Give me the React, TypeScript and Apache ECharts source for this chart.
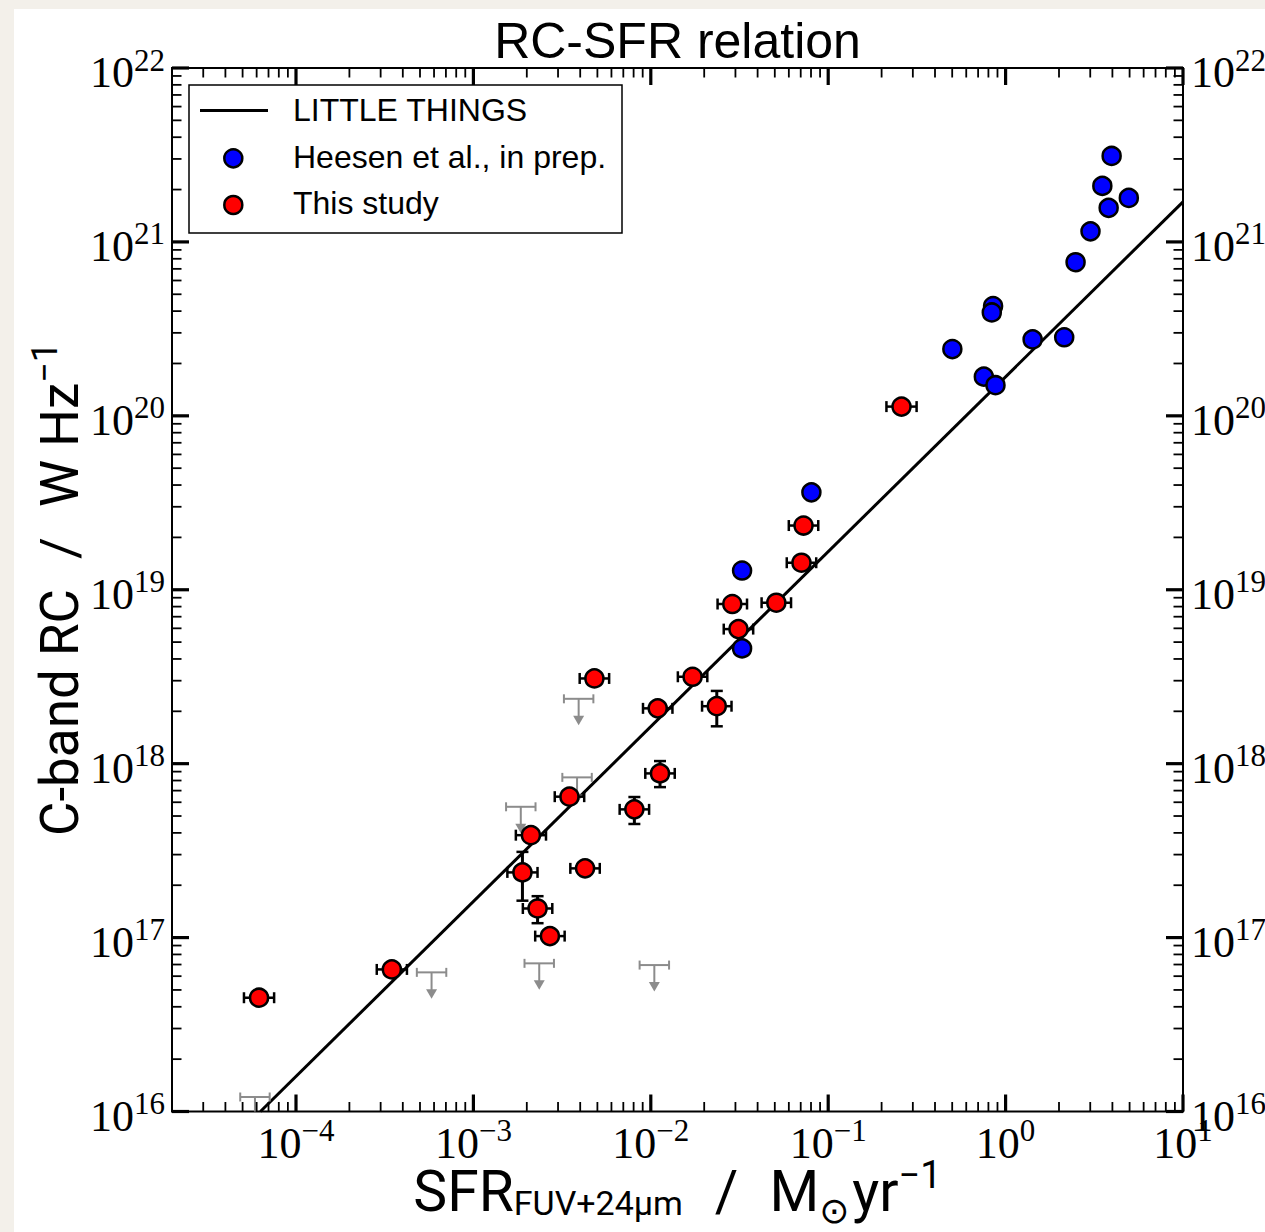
import React, { useEffect, useRef } from "react";
import * as echarts from "echarts";

// ---------- axes ----------
const X_RANGE = [2e-5, 10];
const Y_RANGE = [1e16, 1e22];
const X_MAJOR_TICKS = [1e-4, 1e-3, 1e-2, 1e-1, 1, 10];
const X_MAJOR_LABEL_EXP = ["−4", "−3", "−2", "−1", "0", "1"];
const X_DECADES = [1e-5, 1e-4, 1e-3, 1e-2, 1e-1, 1];
const Y_MAJOR_TICKS = [1e16, 1e17, 1e18, 1e19, 1e20, 1e21, 1e22];
const Y_MAJOR_LABEL_EXP = ["16", "17", "18", "19", "20", "21", "22"];
const Y_DECADES = [1e16, 1e17, 1e18, 1e19, 1e20, 1e21];
const MINOR_MULTIPLIERS = [2, 3, 4, 5, 6, 7, 8, 9];

// ---------- LITTLE THINGS relation ----------
const LINE_X = [6.3e-5, 10];
const LINE_Y = [1e16, 1.7e21];

// ---------- Heesen et al., in prep. ----------
const HEESEN_X = [3.96, 3.51, 4.95, 3.81, 3.01, 2.48, 0.85, 0.836, 1.42, 2.14, 0.501, 0.754, 0.877, 0.0804, 0.0327, 0.0327];
const HEESEN_Y = [3.12e21, 2.1e21, 1.79e21, 1.57e21, 1.15e21, 7.64e20, 4.28e20, 3.93e20, 2.75e20, 2.83e20, 2.42e20, 1.68e20, 1.5e20, 3.63e19, 1.29e19, 4.6e18];

// ---------- This study ----------
const STUDY_X = [0.259, 0.0726, 0.0707, 0.0288, 0.051, 0.0312, 0.0172, 0.00481, 0.01094, 0.02355, 0.01127, 0.00348, 0.00808, 0.00211, 0.00189, 0.00426, 0.0023, 0.0027, 3.47e-4, 6.19e-5];
const STUDY_Y = [1.13e20, 2.34e19, 1.43e19, 8.28e18, 8.42e18, 5.94e18, 3.16e18, 3.09e18, 2.08e18, 2.14e18, 8.79e17, 6.46e17, 5.46e17, 3.88e17, 2.37e17, 2.5e17, 1.47e17, 1.02e17, 6.56e16, 4.51e16];
const STUDY_XERR_DEX = [0.085, 0.083, 0.083, 0.083, 0.083, 0.083, 0.083, 0.083, 0.083, 0.083, 0.083, 0.083, 0.083, 0.085, 0.085, 0.083, 0.083, 0.083, 0.085, 0.085];
const STUDY_Y_LO = [0, 0, 0, 0, 0, 0, 0, 0, 0, 1.64e18, 7.33e17, 0, 4.5e17, 0, 1.63e17, 0, 1.21e17, 0, 0, 0];
const STUDY_Y_HI = [0, 0, 0, 0, 0, 0, 0, 0, 0, 2.62e18, 1.035e18, 0, 6.43e17, 0, 3.11e17, 0, 1.73e17, 0, 0, 0];

// ---------- upper limits (grey) ----------
const LIMIT_X = [0.00392, 0.00384, 0.00185, 0.00235, 0.01047, 5.81e-4, 5.87e-5];
const LIMIT_Y = [2.36e18, 8.34e17, 5.65e17, 7.11e16, 6.95e16, 6.31e16, 1.21e16];
const LIMIT_XERR_DEX = [0.083, 0.083, 0.083, 0.083, 0.083, 0.083, 0.083];

const SERIF = "'Liberation Serif', 'DejaVu Serif', serif";
const SANS = "'Liberation Sans', Arial, sans-serif";
const MATHSANS = "Roboto, 'DejaVu Sans', sans-serif";

// main digits centred in a 56px line; exponent (top-aligned) sits ~12px higher
const TICK_RICH = {
  b: { fontFamily: SERIF, fontSize: 44, lineHeight: 56, fill: "#000" },
  s: { fontFamily: SERIF, fontSize: 31, lineHeight: 10, verticalAlign: "top", fill: "#000" },
};

function buildTickData() {
  const d: number[][] = [];
  X_MAJOR_TICKS.forEach((v, i) => d.push([v, Y_RANGE[0], 0, 1, i]));
  X_DECADES.forEach((dec) =>
    MINOR_MULTIPLIERS.forEach((m) => {
      const v = m * dec;
      if (v >= X_RANGE[0] * 0.9999 && v <= X_RANGE[1]) d.push([v, Y_RANGE[0], 0, 0, -1]);
    })
  );
  Y_MAJOR_TICKS.forEach((v, i) => d.push([X_RANGE[0], v, 1, 1, i]));
  Y_DECADES.forEach((dec) =>
    MINOR_MULTIPLIERS.forEach((m) => {
      const v = m * dec;
      if (v >= Y_RANGE[0] && v <= Y_RANGE[1]) d.push([X_RANGE[0], v, 1, 0, -1]);
    })
  );
  return d;
}

export default function App() {
  const ref = useRef<HTMLDivElement>(null);
  useEffect(() => {
    document.body.style.margin = "0";
    if (!ref.current) return;
    const chart = echarts.init(ref.current, undefined, { renderer: "svg" });

    const ticks = buildTickData();
    const studyBars = STUDY_X.map((x, i) => [x, STUDY_Y[i], STUDY_XERR_DEX[i], STUDY_Y_LO[i], STUDY_Y_HI[i]]);
    const limits = LIMIT_X.map((x, i) => [x, LIMIT_Y[i], LIMIT_XERR_DEX[i]]);

    const black = "#000";
    const grey = "#8c8c8c";

    const option: any = {
      animation: false,
      backgroundColor: "#ffffff",
      grid: {
        left: 172,
        top: 68,
        width: 1011,
        height: 1043.5,
        show: true,
        borderColor: black,
        borderWidth: 2,
        backgroundColor: "transparent",
      },
      xAxis: {
        type: "log",
        logBase: 10,
        min: X_RANGE[0],
        max: X_RANGE[1],
        axisLine: { show: false },
        axisTick: { show: false },
        axisLabel: { show: false },
        splitLine: { show: false },
      },
      yAxis: {
        type: "log",
        logBase: 10,
        min: Y_RANGE[0],
        max: Y_RANGE[1],
        axisLine: { show: false },
        axisTick: { show: false },
        axisLabel: { show: false },
        splitLine: { show: false },
      },
      graphic: [
        { type: "rect", z: 0, shape: { x: 0, y: 0, width: 14, height: 1232 }, style: { fill: "#f3f0ea" } },
        { type: "rect", z: 0, shape: { x: 0, y: 0, width: 1265, height: 9 }, style: { fill: "#f3f0ea" } },
        {
          type: "text",
          z: 10,
          x: 677.5,
          y: 41,
          style: { text: "RC-SFR relation", fontFamily: SANS, fontSize: 50, fill: black, align: "center", verticalAlign: "middle" },
        },
        {
          type: "text",
          z: 10,
          x: 677.5,
          y: 1191,
          style: {
            text: "{a|SFR}{sub|FUV+24μm}{sl|/}{a|M}{sun|⊙}{a|yr}{sup|−1}",
            align: "center",
            verticalAlign: "middle",
            rich: {
              a: { fontFamily: MATHSANS, fontSize: 57, lineHeight: 70, fill: black },
              sub: { fontFamily: MATHSANS, fontSize: 34, lineHeight: 10, verticalAlign: "top", padding: [30, 0, 0, 0], fill: black },
              sl: { fontFamily: MATHSANS, fontSize: 57, lineHeight: 70, padding: [0, 31, 0, 32], fill: black },
              sun: { fontFamily: "'DejaVu Sans', sans-serif", fontSize: 36, lineHeight: 10, verticalAlign: "top", padding: [36, 3, 0, 0], fill: black },
              sup: { fontFamily: MATHSANS, fontSize: 38, lineHeight: 10, verticalAlign: "top", fill: black },
            },
          },
        },
        {
          type: "text",
          z: 10,
          x: 60,
          y: 589,
          rotation: Math.PI / 2,
          style: {
            text: "{a|C-band RC}{sl|/}{a|W Hz}{sup|−1}",
            align: "center",
            verticalAlign: "middle",
            rich: {
              a: { fontFamily: MATHSANS, fontSize: 53, lineHeight: 66, fill: black },
              sl: { fontFamily: MATHSANS, fontSize: 53, lineHeight: 66, padding: [0, 30, 0, 30], fill: black },
              sup: { fontFamily: MATHSANS, fontSize: 36, lineHeight: 10, verticalAlign: "top", fill: black },
            },
          },
        },
        // legend
        {
          type: "group",
          z: 10,
          children: [
            { type: "rect", shape: { x: 189, y: 85, width: 433, height: 148 }, style: { fill: "#fff", stroke: black, lineWidth: 1.5 } },
            { type: "line", shape: { x1: 200, y1: 110.5, x2: 268, y2: 110.5 }, style: { stroke: black, lineWidth: 3 } },
            { type: "circle", shape: { cx: 233.3, cy: 158.3, r: 9 }, style: { fill: "#0000ff", stroke: black, lineWidth: 2.5 } },
            { type: "circle", shape: { cx: 233.3, cy: 205, r: 9 }, style: { fill: "#ff0000", stroke: black, lineWidth: 2.5 } },
            { type: "text", x: 293, y: 110, style: { text: "LITTLE THINGS", fontFamily: SANS, fontSize: 32, fill: black, verticalAlign: "middle", align: "left" } },
            { type: "text", x: 293, y: 157, style: { text: "Heesen et al., in prep.", fontFamily: SANS, fontSize: 32, fill: black, verticalAlign: "middle", align: "left" } },
            { type: "text", x: 293, y: 203, style: { text: "This study", fontFamily: SANS, fontSize: 32, fill: black, verticalAlign: "middle", align: "left" } },
          ],
        },
      ],
      series: [
        {
          name: "LITTLE THINGS",
          type: "line",
          z: 2,
          symbol: "none",
          data: LINE_X.map((x, i) => [x, LINE_Y[i]]),
          lineStyle: { color: black, width: 3 },
          silent: true,
        },
        {
          name: "limits",
          type: "custom",
          z: 3,
          clip: true,
          silent: true,
          encode: { x: 0, y: 1 },
          data: limits,
          renderItem: (params: any, api: any) => {
            const x = api.value(0);
            const y = api.value(1);
            const d = api.value(2);
            const p = api.coord([x, y]);
            const pl = api.coord([x / Math.pow(10, d), y]);
            const pr = api.coord([x * Math.pow(10, d), y]);
            const st = { stroke: grey, lineWidth: 2 };
            return {
              type: "group",
              children: [
                { type: "line", shape: { x1: pl[0], y1: p[1], x2: pr[0], y2: p[1] }, style: st },
                { type: "line", shape: { x1: pl[0], y1: p[1] - 4.5, x2: pl[0], y2: p[1] + 4.5 }, style: st },
                { type: "line", shape: { x1: pr[0], y1: p[1] - 4.5, x2: pr[0], y2: p[1] + 4.5 }, style: st },
                { type: "line", shape: { x1: p[0], y1: p[1], x2: p[0], y2: p[1] + 18 }, style: st },
                {
                  type: "polygon",
                  shape: { points: [[p[0] - 5.5, p[1] + 17], [p[0] + 5.5, p[1] + 17], [p[0], p[1] + 26.5]] },
                  style: { fill: grey },
                },
              ],
            };
          },
        },
        {
          name: "Heesen et al., in prep.",
          type: "scatter",
          z: 4,
          symbol: "circle",
          symbolSize: 18,
          data: HEESEN_X.map((x, i) => [x, HEESEN_Y[i]]),
          itemStyle: { color: "#0000ff", borderColor: black, borderWidth: 2.5, opacity: 1 },
          silent: true,
        },
        {
          name: "errorbars",
          type: "custom",
          z: 5,
          silent: true,
          encode: { x: 0, y: 1 },
          data: studyBars,
          renderItem: (params: any, api: any) => {
            const x = api.value(0);
            const y = api.value(1);
            const d = api.value(2);
            const ylo = api.value(3);
            const yhi = api.value(4);
            const p = api.coord([x, y]);
            const pl = api.coord([x / Math.pow(10, d), y]);
            const pr = api.coord([x * Math.pow(10, d), y]);
            const st = { stroke: black, lineWidth: 2.5 };
            const ch: any[] = [
              { type: "line", shape: { x1: pl[0], y1: p[1], x2: pr[0], y2: p[1] }, style: st },
              { type: "line", shape: { x1: pl[0], y1: p[1] - 5.5, x2: pl[0], y2: p[1] + 5.5 }, style: st },
              { type: "line", shape: { x1: pr[0], y1: p[1] - 5.5, x2: pr[0], y2: p[1] + 5.5 }, style: st },
            ];
            if (ylo > 0 && yhi > 0) {
              const pt = api.coord([x, yhi]);
              const pb = api.coord([x, ylo]);
              ch.push({ type: "line", shape: { x1: p[0], y1: pt[1], x2: p[0], y2: pb[1] }, style: { stroke: black, lineWidth: 3 } });
              ch.push({ type: "line", shape: { x1: p[0] - 6, y1: pt[1], x2: p[0] + 6, y2: pt[1] }, style: st });
              ch.push({ type: "line", shape: { x1: p[0] - 6, y1: pb[1], x2: p[0] + 6, y2: pb[1] }, style: st });
            }
            return { type: "group", children: ch };
          },
        },
        {
          name: "This study",
          type: "scatter",
          z: 6,
          symbol: "circle",
          symbolSize: 18,
          data: STUDY_X.map((x, i) => [x, STUDY_Y[i]]),
          itemStyle: { color: "#ff0000", borderColor: black, borderWidth: 2.5, opacity: 1 },
          silent: true,
        },
        {
          name: "ticks",
          type: "custom",
          z: 7,
          silent: true,
          clip: false,
          encode: { x: 0, y: 1 },
          data: ticks,
          renderItem: (params: any, api: any) => {
            const kind = api.value(2);
            const major = api.value(3) === 1;
            const li = api.value(4);
            const len = major ? 17 : 9.5;
            const st = { stroke: black, lineWidth: major ? 3.2 : 1.8 };
            const ch: any[] = [];
            if (kind === 0) {
              const v = api.value(0);
              const b = api.coord([v, Y_RANGE[0]]);
              const t = api.coord([v, Y_RANGE[1]]);
              ch.push({ type: "line", shape: { x1: b[0], y1: b[1], x2: b[0], y2: b[1] - len }, style: st });
              ch.push({ type: "line", shape: { x1: t[0], y1: t[1], x2: t[0], y2: t[1] + len }, style: st });
              if (major) {
                ch.push({
                  type: "text",
                  x: b[0],
                  y: b[1] + 31.5,
                  style: { text: `{b|10}{s|${X_MAJOR_LABEL_EXP[li]}}`, rich: TICK_RICH, align: "center", verticalAlign: "middle" },
                });
              }
            } else {
              const v = api.value(1);
              const l = api.coord([X_RANGE[0], v]);
              const r = api.coord([X_RANGE[1], v]);
              ch.push({ type: "line", shape: { x1: l[0], y1: l[1], x2: l[0] + len, y2: l[1] }, style: st });
              ch.push({ type: "line", shape: { x1: r[0], y1: r[1], x2: r[0] - len, y2: r[1] }, style: st });
              if (major) {
                const txt = `{b|10}{s|${Y_MAJOR_LABEL_EXP[li]}}`;
                ch.push({ type: "text", x: 165, y: l[1] + 4.5, style: { text: txt, rich: TICK_RICH, align: "right", verticalAlign: "middle" } });
                ch.push({ type: "text", x: 1191, y: r[1] + 4.5, style: { text: txt, rich: TICK_RICH, align: "left", verticalAlign: "middle" } });
              }
            }
            return { type: "group", children: ch };
          },
        },
      ],
    };

    chart.setOption(option);
    return () => chart.dispose();
  }, []);

  return <div ref={ref} style={{ width: 1265, height: 1232 }} />;
}
